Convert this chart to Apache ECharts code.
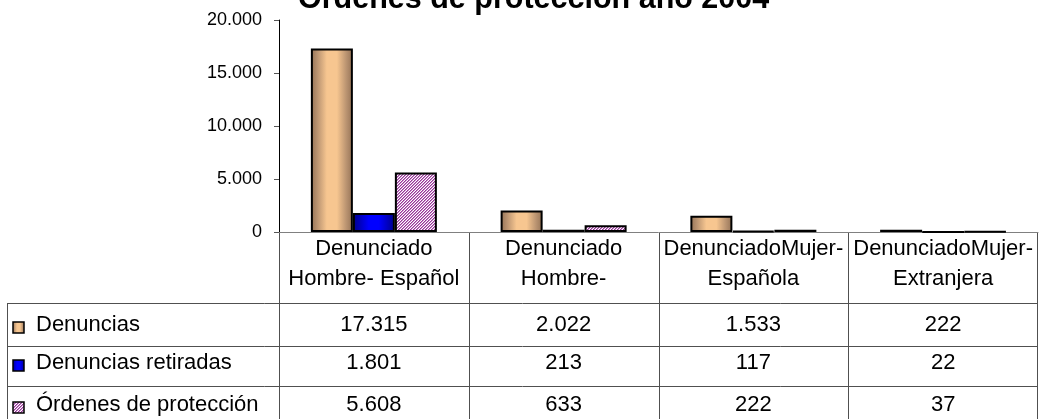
<!DOCTYPE html>
<html>
<head>
<meta charset="utf-8">
<script src="https://cdn.jsdelivr.net/npm/echarts@6/dist/echarts.min.js"></script>
<style>
  html, body { margin: 0; padding: 0; background: #fff; }
  #chart { width: 1039px; height: 419px; }
</style>
</head>
<body>
<div id="chart"></div>
<script>
// Categories (two-line headers of the data table)
const categories = [
  'Denunciado\nHombre- Español',
  'Denunciado\nHombre-',
  'DenunciadoMujer-\nEspañola',
  'DenunciadoMujer-\nExtranjera'
];
const seriesNames = ['Denuncias', 'Denuncias retiradas', 'Órdenes de protección'];
const denuncias = [17315, 2022, 1533, 222];
const retiradas = [1801, 213, 117, 22];
const ordenes = [5608, 633, 222, 37];
const yMin = 0, yMax = 20000, yStep = 5000;
const titleText = 'Órdenes de protección año 2004';

const FONT = '"Liberation Sans", Arial, sans-serif';

// Spanish thousands separator
function fmt(v) {
  return String(v).replace(/\B(?=(\d{3})+(?!\d))/g, '.');
}

// Fill styles
const tanFill = new echarts.graphic.LinearGradient(0, 0, 1, 0, [
  { offset: 0, color: '#947255' },
  { offset: 0.15, color: '#b89270' },
  { offset: 0.38, color: '#f7c690' },
  { offset: 0.62, color: '#f7c690' },
  { offset: 0.85, color: '#b89270' },
  { offset: 1, color: '#947255' }
]);
const blueFill = new echarts.graphic.LinearGradient(0, 0, 1, 0, [
  { offset: 0, color: '#000088' },
  { offset: 0.38, color: '#0000ff' },
  { offset: 0.62, color: '#0000ff' },
  { offset: 1, color: '#000088' }
]);
// Fine upward-diagonal hatch
function hatchCanvas() {
  const c = document.createElement('canvas');
  c.width = 3; c.height = 3;
  const g = c.getContext('2d');
  const tones = ['#993399', '#c58fc8', '#ffffff'];
  for (let x = 0; x < 3; x++) {
    for (let y = 0; y < 3; y++) {
      g.fillStyle = tones[(x + y) % 3];
      g.fillRect(x, y, 1, 1);
    }
  }
  return c;
}
const hatchFill = { image: hatchCanvas(), repeat: 'repeat' };
const fills = [tanFill, blueFill, hatchFill];
const values = [denuncias, retiradas, ordenes];

const chart = echarts.init(document.getElementById('chart'));

chart.setOption({
  animation: false,
  backgroundColor: '#ffffff',
  title: {
    text: titleText,
    left: 298,
    top: -15,
    padding: 0,
    textStyle: { fontFamily: FONT, fontSize: 30.5, fontWeight: 'bold', color: '#000', lineHeight: 30 }
  },
  grid: { left: 279, right: 1, top: 20, bottom: 187, containLabel: false },
  xAxis: {
    type: 'category',
    data: categories,
    axisLine: { show: true, lineStyle: { color: '#808080', width: 1 } },
    axisTick: { show: false },
    axisLabel: {
      interval: 0, margin: 2, fontFamily: FONT, fontSize: 22, lineHeight: 30, color: '#000'
    }
  },
  yAxis: {
    type: 'value',
    min: yMin, max: yMax, interval: yStep,
    axisLine: { show: true, lineStyle: { color: '#000', width: 1 } },
    axisTick: { show: true, length: 5, lineStyle: { color: '#555' } },
    splitLine: { show: false },
    axisLabel: {
      margin: 17, fontFamily: FONT, fontSize: 18, color: '#000',
      formatter: v => fmt(v)
    }
  },
  series: seriesNames.map((name, i) => ({
    name,
    type: 'bar',
    data: values[i],
    barWidth: 42,
    barGap: '0%',
    itemStyle: { color: fills[i], borderColor: '#000', borderWidth: 2 }
  }))
});

// Data table under the plot
const band = chart.convertToPixel({ xAxisIndex: 0 }, 1) - chart.convertToPixel({ xAxisIndex: 0 }, 0);
const centers = categories.map((c, i) => chart.convertToPixel({ xAxisIndex: 0 }, i));
const axisY = chart.convertToPixel({ yAxisIndex: 0 }, 0);
const tableLeft = 7;
const rowLines = [303, 346, 386, 427];
const textCenters = [325, 363, 405];
const gridRight = centers[centers.length - 1] + band / 2;
const lineColor = '#505050';

const els = [];
rowLines.forEach(y => {
  els.push({ type: 'line', shape: { x1: tableLeft, y1: y + 0.5, x2: gridRight, y2: y + 0.5 },
    style: { stroke: lineColor, lineWidth: 1 }, silent: true });
});
els.push({ type: 'line', shape: { x1: tableLeft + 0.5, y1: rowLines[0], x2: tableLeft + 0.5, y2: 419 },
  style: { stroke: lineColor, lineWidth: 1 }, silent: true });
const bounds = centers.map(c => c - band / 2).concat([gridRight]);
bounds.forEach((x, i) => {
  const xx = Math.round(x) + (i === bounds.length - 1 ? -0.5 : 0.5);
  els.push({ type: 'line', shape: { x1: xx, y1: axisY, x2: xx, y2: 419 },
    style: { stroke: lineColor, lineWidth: 1 }, silent: true });
});
seriesNames.forEach((name, r) => {
  const cy = textCenters[r];
  els.push({ type: 'rect', shape: { x: 13, y: cy - 3, width: 11, height: 11 },
    style: { fill: fills[r], stroke: '#000', lineWidth: 1.5 }, silent: true });
  els.push({ type: 'text', x: 36, y: cy,
    style: { text: name, fontFamily: FONT, fontSize: 22, fill: '#000', textAlign: 'left', textVerticalAlign: 'middle' },
    silent: true });
  values[r].forEach((v, i) => {
    els.push({ type: 'text', x: centers[i], y: cy,
      style: { text: fmt(v), fontFamily: FONT, fontSize: 22, fill: '#000', textAlign: 'center', textVerticalAlign: 'middle' },
      silent: true });
  });
});
chart.setOption({ graphic: { elements: els } });
</script>
</body>
</html>
